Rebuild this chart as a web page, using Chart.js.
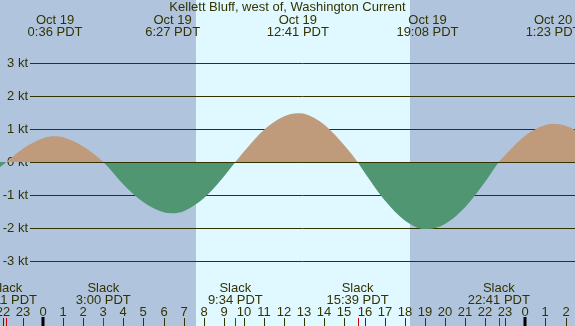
<!DOCTYPE html>
<html>
<head>
<meta charset="utf-8">
<script src="https://cdn.jsdelivr.net/npm/chart.js@4/dist/chart.umd.min.js"></script>
<style>
  html, body { margin: 0; padding: 0; background: #b0c4de; }
  #wrap { width: 575px; height: 326px; }
</style>
</head>
<body>
<div id="wrap"><canvas id="tide" width="575" height="326"></canvas></div>
<script>
  // hours since Oct 19 0:00 PDT, current in knots
  const hours = [-3, -2, -1.82, -1, 0, 0.6, 1, 2, 3, 4, 5, 6, 6.45, 7, 8, 9, 9.57, 10, 11, 12, 12.68,
    13, 14, 15, 15.65, 16, 17, 18, 19, 19.13, 20, 21, 22, 22.68, 23, 24, 25, 25.38, 26, 27];
  const knots = [-0.55, -0.09, 0, 0.40, 0.72, 0.78, 0.75, 0.47, 0, -0.68, -1.22, -1.52, -1.55, -1.49, -1.10, -0.44, 0, 0.32, 0.98, 1.39, 1.48,
    1.46, 1.13, 0.50, 0, -0.32, -1.16, -1.77, -2.03, -2.03, -1.88, -1.37, -0.60, 0, 0.21, 0.80, 1.12, 1.15, 1.10, 0.80];

  // max flood / ebb events (top labels)
  const maxTimes = [0.6, 6.45, 12.68, 19.13, 25.38];
  const maxDates = ['Oct 19', 'Oct 19', 'Oct 19', 'Oct 19', 'Oct 20'];
  const maxLabels = ['0:36 PDT', '6:27 PDT', '12:41 PDT', '19:08 PDT', '1:23 PDT'];

  // slack water events (bottom labels)
  const slackTimes = [-1.82, 3.0, 9.57, 15.65, 22.68];
  const slackLabels = ['22:11 PDT', '3:00 PDT', '9:34 PDT', '15:39 PDT', '22:41 PDT'];

  const ktTicks = [3, 2, 1, 0, -1, -2, -3];
  const sunrise = 7.61, sunset = 18.26;
  const title = 'Kellett Bluff, west of, Washington Current';

  const ink = '#333300';
  const font = '13px "Liberation Sans", Arial, sans-serif';

  const tidePlugin = {
    id: 'tide',
    beforeDraw(chart) {
      const { ctx, scales: { x } } = chart;
      ctx.save();
      ctx.fillStyle = '#b0c4de';
      ctx.fillRect(0, 0, chart.width, chart.height);
      const x0 = x.getPixelForValue(sunrise), x1 = x.getPixelForValue(sunset);
      ctx.fillStyle = '#e0f8ff';
      ctx.fillRect(x0, 0, x1 - x0, chart.height);
      ctx.restore();
    },
    beforeDatasetsDraw(chart) {
      const { ctx, scales: { y } } = chart;
      ctx.save();
      ctx.strokeStyle = ink;
      ctx.lineWidth = 1;
      ctx.fillStyle = ink;
      ctx.font = font;
      ctx.textAlign = 'right';
      ctx.textBaseline = 'middle';
      ktTicks.forEach(v => {
        const py = Math.round(y.getPixelForValue(v)) + 0.5;
        ctx.beginPath();
        ctx.moveTo(30, py);
        ctx.lineTo(chart.width, py);
        ctx.stroke();
        ctx.fillText(v + ' kt', 28, py);
      });
      ctx.restore();
    },
    afterDatasetsDraw(chart) {
      const { ctx, scales: { x, y } } = chart;
      ctx.save();
      ctx.strokeStyle = ink;
      ctx.lineWidth = 1;
      // zero line on top
      const zy = Math.round(y.getPixelForValue(0)) + 0.5;
      ctx.beginPath();
      ctx.moveTo(30, zy);
      ctx.lineTo(chart.width, zy);
      ctx.stroke();

      ctx.font = font;
      ctx.fillStyle = ink;
      ctx.textAlign = 'center';
      ctx.textBaseline = 'middle';

      // title
      ctx.fillText(title, chart.width / 2, 7);

      // max current labels
      maxTimes.forEach((t, i) => {
        const px = x.getPixelForValue(t);
        ctx.fillText(maxDates[i], px, 20);
        ctx.fillText(maxLabels[i], px, 32);
      });

      // slack labels
      slackTimes.forEach((t, i) => {
        const px = x.getPixelForValue(t);
        ctx.fillText('Slack', px, 288);
        ctx.fillText(slackLabels[i], px, 300);
      });

      // hour ticks
      for (let h = Math.ceil(x.min); h <= Math.floor(x.max); h++) {
        const px = Math.round(x.getPixelForValue(h));
        const lbl = ((h % 24) + 24) % 24;
        ctx.fillStyle = ink;
        ctx.fillText(String(lbl), px, 312);
        if (lbl === 0) {
          ctx.fillStyle = '#000000';
          ctx.fillRect(px - 1.5, 317, 3, 9);
        } else {
          ctx.fillRect(px, 318, 1, 8);
        }
      }

      // slack marks
      ctx.fillStyle = '#dd0000';
      slackTimes.forEach(t => {
        const px = Math.round(x.getPixelForValue(t));
        ctx.fillRect(px, 318, 1, 8);
      });
      ctx.restore();
    }
  };

  new Chart(document.getElementById('tide'), {
    type: 'line',
    data: {
      datasets: [{
        data: hours.map((h, i) => ({ x: h, y: knots[i] })),
        borderWidth: 0,
        borderColor: 'rgba(0,0,0,0)',
        pointRadius: 0,
        cubicInterpolationMode: 'monotone',
        fill: { target: { value: 0 }, above: '#bf9b7b', below: '#509672' }
      }]
    },
    options: {
      responsive: false,
      devicePixelRatio: 1,
      animation: false,
      layout: { padding: 0 },
      scales: {
        x: { type: 'linear', min: -2.14, max: 26.47, display: false },
        y: { min: -4.97, max: 4.91, display: false }
      },
      plugins: {
        legend: { display: false },
        title: { display: false },
        tooltip: { enabled: false }
      }
    },
    plugins: [tidePlugin]
  });
</script>
</body>
</html>
